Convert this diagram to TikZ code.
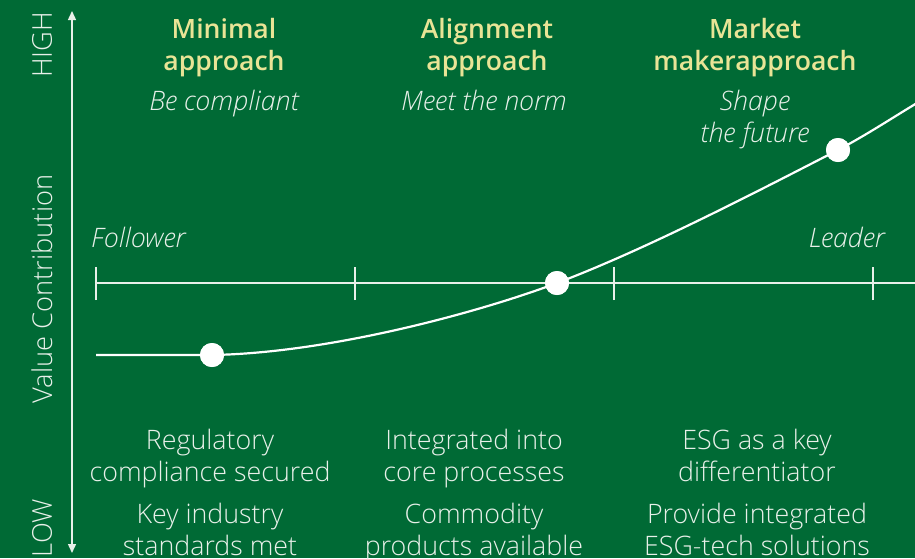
\documentclass[tikz,border=0pt]{standalone}
\usepackage{fontspec}
\setmainfont{Open Sans}[UprightFont=* Light, ItalicFont=* Light Italic, BoldFont=* Semibold]
\usetikzlibrary{arrows.meta}
\definecolor{bg}{RGB}{0,106,53}
\definecolor{txt}{RGB}{232,240,233}
\definecolor{ttl}{RGB}{233,228,150}
\tikzset{
  body/.style={text=txt,font=\fontsize{26.8}{31.5}\selectfont,align=center,inner sep=0pt,anchor=base},
  title/.style={text=ttl,font=\fontsize{26.6}{32}\selectfont\bfseries,align=center,inner sep=0pt,anchor=base},
  sub/.style={text=txt,font=\fontsize{26.8}{32}\selectfont\itshape,align=center,inner sep=0pt,anchor=base},
  axlab/.style={text=txt,font=\fontsize{27.3}{28}\selectfont,rotate=90,inner sep=0pt},
  dot/.style={circle,fill=white,minimum size=24pt,inner sep=0pt},
  axis/.style={draw=txt,line width=1.4pt},
}
\begin{document}
\begin{tikzpicture}[x=1pt,y=-1pt]
\useasboundingbox (0,0) rectangle (915,558);
\clip (0,0) rectangle (915,558);
\fill[bg] (0,0) rectangle (915,558);
% vertical axis
\coordinate (vtop) at (72,11);
\coordinate (vbot) at (72,553);
\draw[axis,{Triangle[width=8pt,length=9pt]}-{Triangle[width=8pt,length=9pt]}] (vtop) -- (vbot);
\node[axlab] (high) at (42,45) {HIGH};
\node[axlab] (vc) at (42,289) {Value Contribution};
\node[axlab] (low) at (42,528) {LOW};
% horizontal scale
\coordinate (h0) at (96,283);
\coordinate (h1) at (355,283);
\coordinate (h2) at (614,283);
\coordinate (h3) at (873,283);
\coordinate (hend) at (916,283);
\draw[axis] (h0) -- (hend);
\foreach \c in {h0,h1,h2,h3} \draw[axis] ([yshift=-17pt]\c) -- ([yshift=16pt]\c);
\node[sub,anchor=base west] (fol) at (91,247) {Follower};
\node[sub,anchor=base east] (lead) at (885,247) {Leader};
% titles
\node[title] (t1) at (224,70) {Minimal\\approach};
\node[title] (t2) at (487,70) {Alignment\\approach};
\node[title] (t3) at (755,70) {Market\\makerapproach};
\node[sub] (s1) at (224,110) {Be compliant};
\node[sub] (s2) at (484,110) {Meet the norm};
\node[sub] (s3) at (755,142) {Shape\\the future};
% curve
\coordinate (cs) at (96,355);
\coordinate (ce) at (917,103);
\node[dot] (d1) at (212,355) {};
\node[dot] (d2) at (557,283) {};
\node[dot] (d3) at (838,150) {};
\draw[white,line width=2.2pt] (cs) -- (d1.center) .. controls (330,353) and (480,312) .. (d2.center)
  .. controls (647,249) and (760,190) .. (d3.center) .. controls (868,134) and (892,118) .. (ce);
\node[dot] at (d1) {};
\node[dot] at (d2) {};
\node[dot] at (d3) {};
% bottom texts
\node[body] (b1) at (210,481) {Regulatory\\compliance secured};
\node[body] (b2) at (474,481) {Integrated into\\core processes};
\node[body] (b3) at (757,481) {ESG as a key\\differentiator};
\node[body] (c1) at (210,555) {Key industry\\standards met};
\node[body] (c2) at (474,555) {Commodity\\products available};
\node[body] (c3) at (757,555) {Provide integrated\\ESG-tech solutions};
\end{tikzpicture}
\end{document}
